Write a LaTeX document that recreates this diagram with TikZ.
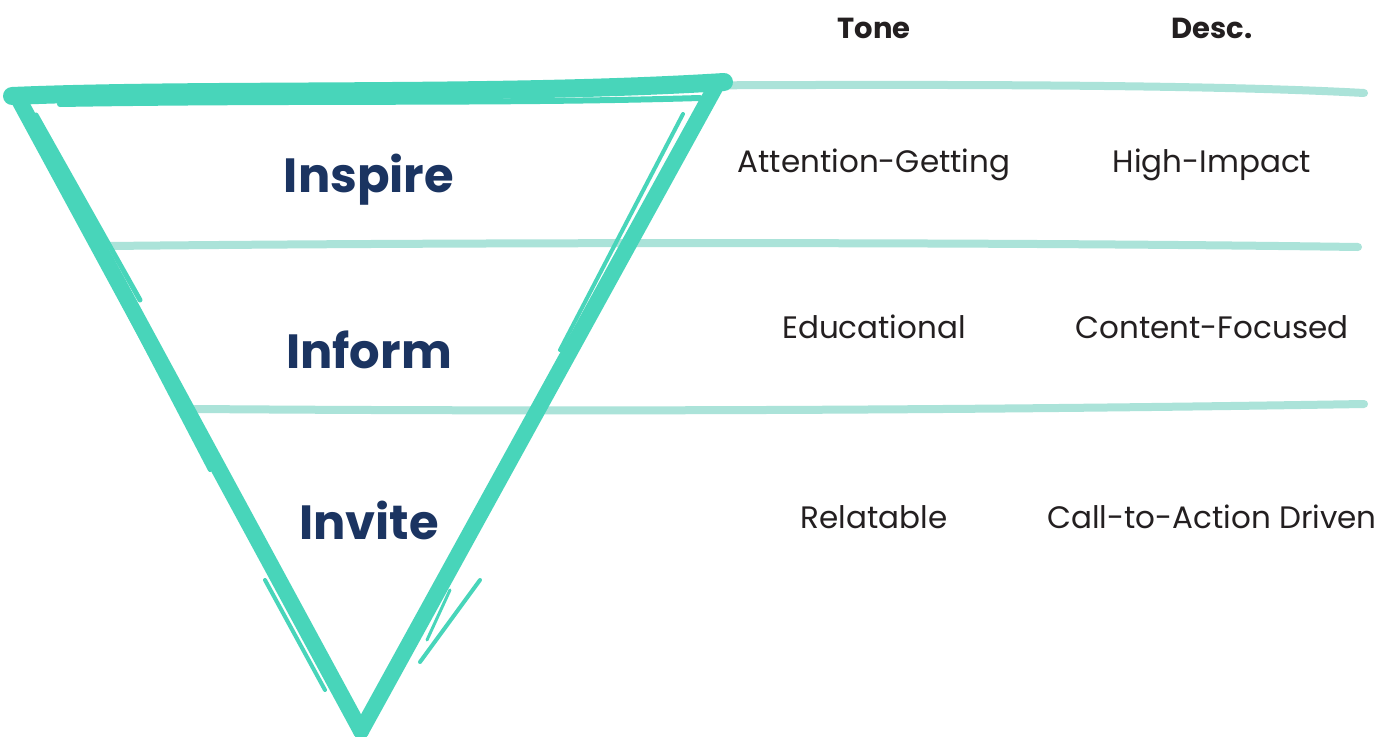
\documentclass[tikz,border=0pt]{standalone}
\usepackage{fontspec}
\setmainfont{Poppins}
\definecolor{funnel}{HTML}{48D5BA}
\definecolor{rule}{HTML}{ABE3D9}
\definecolor{stage}{HTML}{1B3461}
\definecolor{body}{HTML}{231F20}
\tikzset{
  brush/.style={draw=funnel, line width=#1, line cap=round, line join=round},
  brush/.default=15pt,
  band/.style={draw=rule, line width=8pt, line cap=round},
  stagelabel/.style={text=stage, font=\fontsize{48}{54}\selectfont\bfseries, anchor=center},
  headlabel/.style={text=body, font=\fontsize{29}{34}\selectfont\bfseries, anchor=center},
  celllabel/.style={text=body, font=\fontsize{31}{36}\selectfont, anchor=center}
}
\begin{document}
\begin{tikzpicture}[x=1pt,y=-1pt]
\useasboundingbox (0,0) rectangle (1397,736);
\fill[white] (0,0) rectangle (1397,736);

% pale row separators
\draw[band] (600,86) .. controls (900,84) and (1200,84) .. (1364,93);
\draw[band] (108,246) .. controls (500,242) and (1000,242) .. (1358,247);
\draw[band] (195,409) .. controls (600,412) and (1000,410) .. (1364,404);

% funnel outline, brush strokes
\coordinate (tl) at (12,96);
\coordinate (tr) at (724,82);
\coordinate (tip) at (361,731);
\draw[brush=18pt] (tl) .. controls (200,88) and (500,96) .. (tr);
\draw[brush=6pt] (60,104) .. controls (300,100) and (500,104) .. (700,98);
\draw[brush=16pt] (19,100) -- (tip);
\draw[brush=5pt] (36,115) -- (140,300);
\draw[brush=4pt] (90,240) -- (210,470);
\draw[brush=4pt] (265,580) -- (325,690);
\draw[brush=16pt] (716,86) -- (tip);
\draw[brush=4pt] (683,114) -- (560,350);
\draw[brush=4pt] (582,320) -- (522,440);
\draw[brush=4pt] (480,580) -- (420,662);
\draw[brush=3pt] (450,590) -- (427,640);

% stage names
\node[stagelabel] (inspire) at (369,180) {Inspire};
\node[stagelabel] (inform) at (369,350) {Inform};
\node[stagelabel] (invite) at (369,520) {Invite};

% column headers
\node[headlabel] (tone) at (874,28) {Tone};
\node[headlabel] (desc) at (1212,28) {Desc.};

% table cells
\node[celllabel] (t1) at (874,165) {Attention-Getting};
\node[celllabel] (d1) at (1212,165) {High-Impact};
\node[celllabel] (t2) at (874,327) {Educational};
\node[celllabel] (d2) at (1212,327) {Content-Focused};
\node[celllabel] (t3) at (874,517) {Relatable};
\node[celllabel] (d3) at (1212,517) {Call-to-Action Driven};
\end{tikzpicture}
\end{document}
